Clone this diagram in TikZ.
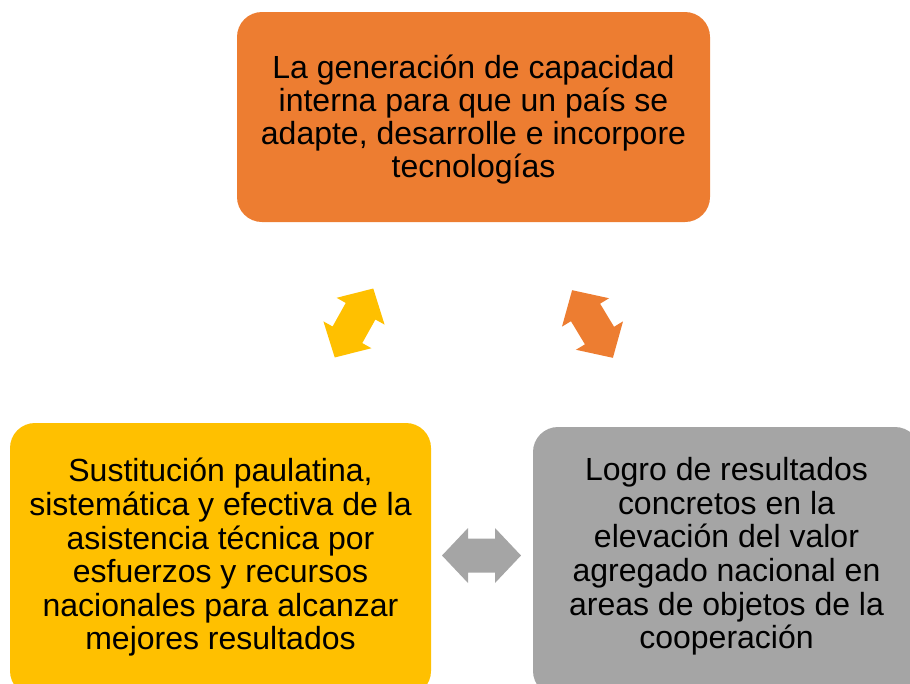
\documentclass[tikz,border=0pt]{standalone}
\usepackage{fontspec}
\setmainfont{Liberation Sans}
\definecolor{accorange}{HTML}{ED7D31}
\definecolor{accyellow}{HTML}{FFC000}
\definecolor{accgray}{HTML}{A5A5A5}
\begin{document}
\begin{tikzpicture}[x=1pt,y=-1pt,
  box/.style={rectangle, rounded corners=25pt, inner sep=0pt, draw=none},
  txt/.style={align=center, inner sep=0pt, font=\fontsize{32}{33}\selectfont, text=black},
  txtb/.style={align=center, inner sep=0pt, font=\fontsize{32}{33.6}\selectfont, text=black},
  dblarrow/.pic={
    \fill (-39.5,0) -- (-13.5,-27.5) -- (-13.5,-17) -- (13.5,-17) -- (13.5,-27.5)
      -- (39.5,0) -- (13.5,27.5) -- (13.5,17) -- (-13.5,17) -- (-13.5,27.5) -- cycle;
  }]
\useasboundingbox (0,0) rectangle (910,683);
% boxes
\node[box, fill=accorange, minimum width=473pt, minimum height=210pt] (top) at (473.5,117) {};
\node[txt] (toptxt) at (473.5,120) {La generación de capacidad\\interna para que un país se\\adapte, desarrolle e incorpore\\tecnologías};
\node[box, fill=accyellow, minimum width=421pt, minimum height=273pt] (left) at (220.5,559.5) {};
\node[txtb] (lefttxt) at (220.5,557.5) {Sustitución paulatina,\\sistemática y efectiva de la\\asistencia técnica por\\esfuerzos y recursos\\nacionales para alcanzar\\mejores resultados};
\node[box, fill=accgray, minimum width=387pt, minimum height=269pt] (right) at (726.5,561.5) {};
\node[txtb] (righttxt) at (726.5,556.5) {Logro de resultados\\concretos en la\\elevación del valor\\agregado nacional en\\areas de objetos de la\\cooperación};
% double arrows
\pic[color=accyellow, rotate=60.8] (arrowleft) at (354,323) {dblarrow};
\pic[color=accorange, rotate=-58.9] (arrowright) at (592.5,324) {dblarrow};
\pic[color=accgray] (arrowbottom) at (481.5,555.5) {dblarrow};
\end{tikzpicture}
\end{document}
